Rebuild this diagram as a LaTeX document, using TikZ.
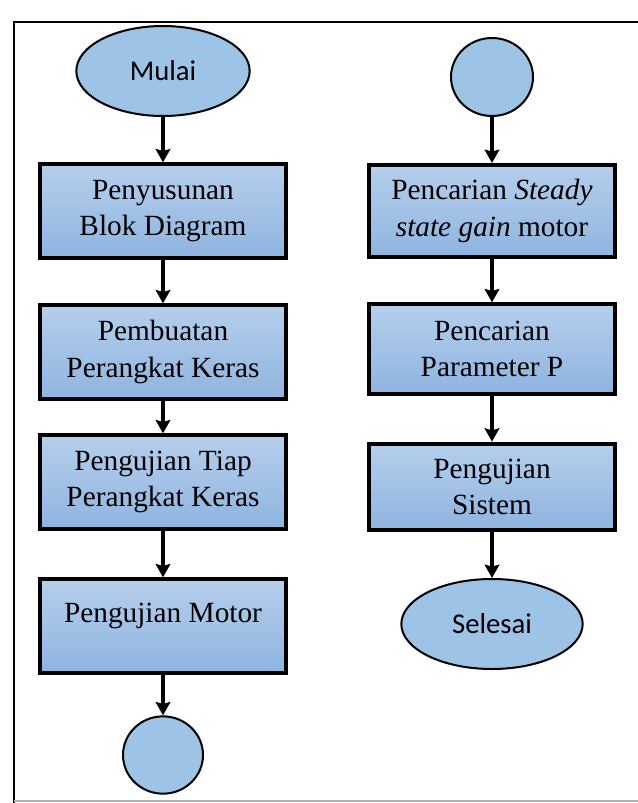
\documentclass[tikz,border=0pt]{standalone}
\usepackage{fontspec}
\setmainfont{Liberation Serif}
\newfontfamily\calibri{Carlito}
\usetikzlibrary{arrows.meta,shapes.geometric,positioning}
\definecolor{boxtop}{HTML}{B5CFEC}
\definecolor{boxbot}{HTML}{8FB4E0}
\definecolor{ovalfill}{HTML}{9DC3E6}

\begin{document}
\begin{tikzpicture}[x=0.75pt,y=-0.75pt,
    proses/.style={draw, line width=3pt, top color=boxtop, bottom color=boxbot, minimum width=185pt, minimum height=70pt, align=center, inner sep=0pt, font=\fontsize{22}{27.5}\selectfont},
    oval/.style={draw, ellipse, line width=1.5pt, fill=ovalfill, inner sep=0pt, font=\calibri\fontsize{21.5}{25}\selectfont},
    panah/.style={-{Stealth[length=10pt,width=11pt,inset=1.5pt]}, line width=2.5pt}
]
\useasboundingbox (0,0) rectangle (638,803);
% bingkai
\draw[line width=2.2pt] (14,803) -- (14,22) -- (640,22);
\draw[black!30, line width=0.8pt] (14,801) -- (638,801);

% kolom kiri
\node[oval, minimum width=130pt, minimum height=67.5pt] (mulai) at (163,71) {Mulai};
\node[proses] (susun) at (163,211) {Penyusunan\\Blok Diagram};
\node[proses] (buat) at (163,352) {Pembuatan\\Perangkat Keras};
\node[proses] (ujialat) at (163,482) {Pengujian Tiap\\Perangkat Keras};
\node[proses, text depth=20pt] (ujimotor) at (163,626) {Pengujian Motor};
\node[oval, minimum width=60pt, minimum height=58pt] (konA) at (163,755) {};

% kolom kanan
\node[oval, minimum width=61.5pt, minimum height=58.5pt] (konB) at (492,77) {};
\node[proses, minimum width=184pt, minimum height=69pt] (gain) at (492,211) {Pencarian \textit{Steady}\\\textit{state gain} motor};
\node[proses, minimum width=184pt, minimum height=67pt] (param) at (492,349) {Pencarian\\Parameter P};
\node[proses, minimum width=184pt, minimum height=65pt] (sistem) at (492,487) {Pengujian\\Sistem};
\node[oval, minimum width=136pt, minimum height=67.5pt] (selesai) at (492,624) {Selesai};

\draw[panah] (mulai) -- (susun);
\draw[panah] (susun) -- (buat);
\draw[panah] (buat) -- (ujialat);
\draw[panah] (ujialat) -- (ujimotor);
\draw[panah] (ujimotor) -- (konA);
\draw[panah] (konB) -- (gain);
\draw[panah] (gain) -- (param);
\draw[panah] (param) -- (sistem);
\draw[panah] (sistem) -- (selesai);
\end{tikzpicture}
\end{document}
